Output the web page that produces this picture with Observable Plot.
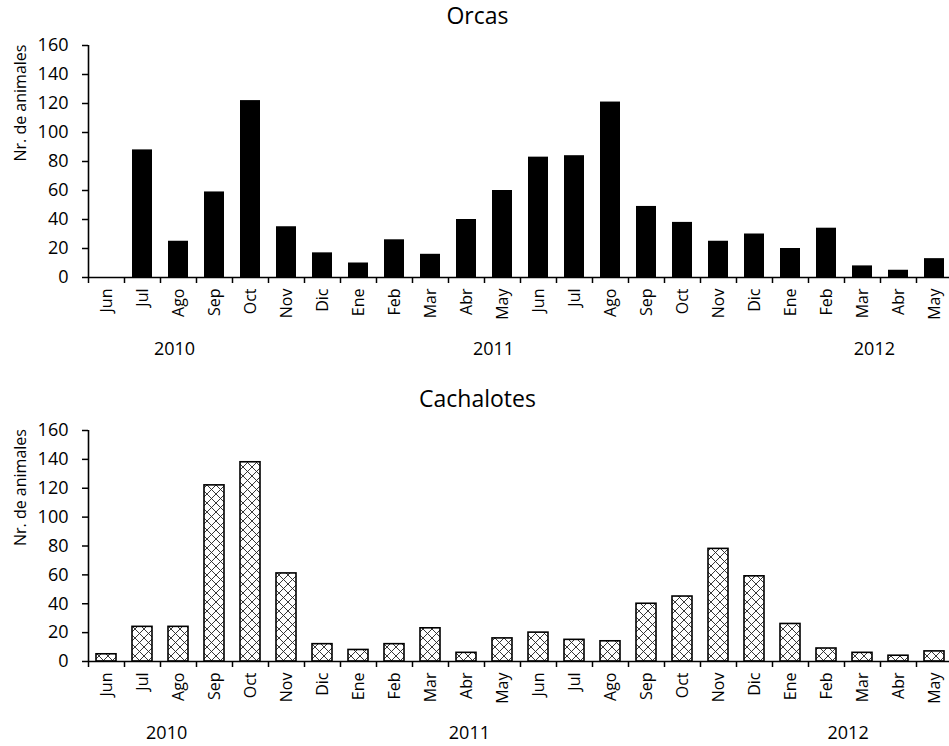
<!DOCTYPE html>
<html>
<head>
<meta charset="utf-8">
<script src="https://cdn.jsdelivr.net/npm/d3@7"></script>
<script src="https://cdn.jsdelivr.net/npm/@observablehq/plot@0.6"></script>
<style>
  html, body { margin: 0; padding: 0; background: #fff; }
  body { width: 949px; height: 746px; overflow: hidden; font-family: "Open Sans", sans-serif; color: #000; }
  .title { width: 949px; box-sizing: border-box; padding-left: 6px; text-align: center; font-size: 23px; font-family: "Open Sans", sans-serif; }
  #t1 { height: 30px; line-height: 30px; }
  #t2 { height: 41px; line-height: 30px; padding-top: 11px; }
  svg { display: block; }
</style>
</head>
<body>
<div class="title" id="t1">Orcas</div>
<div id="c1"></div>
<div class="title" id="t2">Cachalotes</div>
<div id="c2"></div>
<script>
const months = ["Jun","Jul","Ago","Sep","Oct","Nov","Dic","Ene","Feb","Mar","Abr","May",
                "Jun","Jul","Ago","Sep","Oct","Nov","Dic","Ene","Feb","Mar","Abr","May"];
const orcas = [0,88,25,59,122,35,17,10,26,16,40,60,83,84,121,49,38,25,30,20,34,8,5,13];
const cachalotes = [5,24,24,122,138,61,12,8,12,23,6,16,20,15,14,40,45,78,59,26,9,6,4,7];
const yTicks = [0,20,40,60,80,100,120,140,160];
const years = ["2010","2011","2012"];
const yearPosTop = [2.39, 11.25, 21.83];
const yearPosBottom = [2.17, 10.58, 21.1];
const yLabel = "Nr. de animales";

function panel({values, fill, stroke, yearPos, height, marginTop, marginBottom}) {
  const data = values.map((v, i) => ({i, v}));
  const svg = Plot.plot({
    width: 949,
    height,
    marginTop,
    marginBottom,
    marginLeft: 88,
    marginRight: 0,
    style: {fontFamily: "Open Sans", fontSize: "18px", color: "#000", background: "#fff", overflow: "visible"},
    x: {type: "linear", domain: [0, months.length], range: [88, 952]},
    y: {domain: [0, 160]},
    marks: [
      Plot.rectY(data, {x1: d => d.i, x2: d => d.i + 1, y: "v", insetLeft: 8, insetRight: 8,
        fill, stroke, strokeWidth: stroke === "none" ? 0 : 1.6}),
      Plot.ruleY([0], {stroke: "#000", strokeWidth: 1.6}),
      Plot.ruleX([0], {stroke: "#000", strokeWidth: 1.6}),
      Plot.axisY({ticks: yTicks, tickSize: 6, tickPadding: 14, label: null, fontSize: 18, strokeWidth: 1.5}),
      Plot.axisX({ticks: d3.range(0, months.length + 1), tickSize: 6, tickFormat: () => "", label: null, strokeWidth: 1.5}),
      Plot.axisX({ticks: months.map((m, i) => i + 0.5), tickSize: 0, tickPadding: 11,
        tickFormat: d => months[Math.floor(d)], tickRotate: -90, label: null, fontSize: 16}),
      Plot.text([yLabel], {frameAnchor: "left", dx: -68, rotate: -90, fontSize: 16, text: d => d}),
      Plot.text(years, {x: (d, i) => yearPos[i], frameAnchor: "bottom", dy: 72, lineAnchor: "middle", fontSize: 18, text: d => d})
    ]
  });
  return svg;
}

const s1 = panel({values: orcas, fill: "#000", stroke: "none", yearPos: yearPosTop, height: 342, marginTop: 15, marginBottom: 95});
document.getElementById("c1").appendChild(s1);

const s2 = panel({values: cachalotes, fill: "white", stroke: "#000", yearPos: yearPosBottom, height: 333, marginTop: 17, marginBottom: 85});
const defs = d3.select(s2).insert("defs", ":first-child");
const pat = defs.append("pattern").attr("id", "xhatch").attr("patternUnits", "userSpaceOnUse")
  .attr("width", 9).attr("height", 9);
pat.append("rect").attr("width", 9).attr("height", 9).attr("fill", "#fff");
pat.append("path").attr("d", "M0,0L9,9M9,0L0,9M-1,8L1,10M8,-1L10,1M-1,1L1,-1M8,10L10,8").attr("stroke", "#222").attr("stroke-width", 0.9);
d3.select(s2).selectAll("g[aria-label='rect']").attr("fill", "url(#xhatch)");
d3.select(s2).selectAll("g[aria-label='rect'] rect").attr("fill", "url(#xhatch)");
document.getElementById("c2").appendChild(s2);
</script>
</body>
</html>
